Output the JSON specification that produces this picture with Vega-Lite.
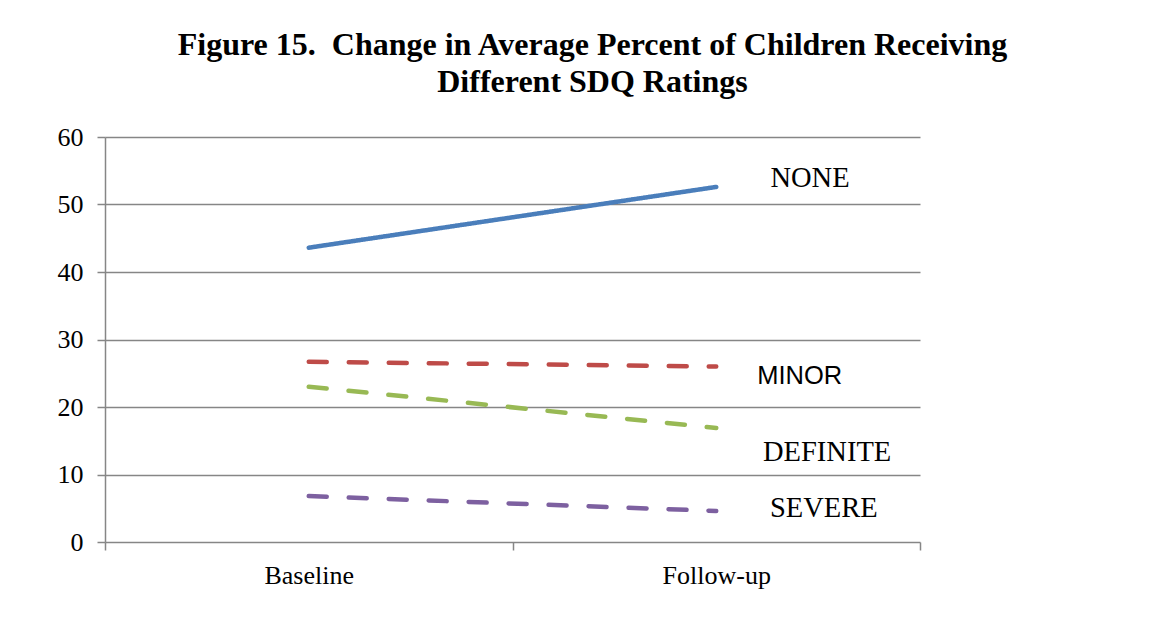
{
  "$schema": "https://vega.github.io/schema/vega-lite/v6.json",
  "width": 815,
  "height": 405,
  "autosize": {"type": "none"},
  "padding": {"left": 105, "top": 137, "right": 255, "bottom": 90},
  "background": "white",
  "title": {
    "text": ["Figure 15.\u00a0 Change in Average Percent of Children Receiving", "Different SDQ Ratings"],
    "font": "Liberation Serif",
    "fontSize": 32,
    "fontWeight": "bold",
    "color": "black",
    "anchor": "middle",
    "dx": 80,
    "lineHeight": 37,
    "offset": 25
  },
  "config": {
    "view": {"stroke": null},
    "axis": {
      "labelFont": "Liberation Serif",
      "labelFontSize": 26,
      "labelColor": "black",
      "domainColor": "#868686",
      "tickColor": "#868686",
      "gridColor": "#868686",
      "domainWidth": 1.5,
      "tickWidth": 1.5,
      "gridWidth": 1.5,
      "title": null
    }
  },
  "layer": [
    {
      "data": {
        "values": [
          {"period": "Baseline", "rating": "NONE", "pct": 43.6},
          {"period": "Follow-up", "rating": "NONE", "pct": 52.6},
          {"period": "Baseline", "rating": "MINOR", "pct": 26.7},
          {"period": "Follow-up", "rating": "MINOR", "pct": 26.0},
          {"period": "Baseline", "rating": "DEFINITE", "pct": 23.0},
          {"period": "Follow-up", "rating": "DEFINITE", "pct": 16.9},
          {"period": "Baseline", "rating": "SEVERE", "pct": 6.8},
          {"period": "Follow-up", "rating": "SEVERE", "pct": 4.6}
        ]
      },
      "mark": {"type": "line", "strokeWidth": 4.5, "strokeCap": "round"},
      "encoding": {
        "x": {
          "field": "period",
          "type": "nominal",
          "sort": ["Baseline", "Follow-up"],
          "bandPosition": 0.5,
          "scale": {"type": "band", "paddingInner": 0, "paddingOuter": 0},
          "axis": {
            "labelAngle": 0,
            "tickBand": "extent",
            "tickSize": 8,
            "labelPadding": 12,
            "domain": false,
            "grid": false
          }
        },
        "y": {
          "field": "pct",
          "type": "quantitative",
          "scale": {"domain": [0, 60], "nice": false},
          "axis": {
            "values": [0, 10, 20, 30, 40, 50, 60],
            "tickSize": 8,
            "labelPadding": 14,
            "grid": true,
            "domain": true
          }
        },
        "color": {
          "field": "rating",
          "type": "nominal",
          "legend": null,
          "scale": {
            "domain": ["NONE", "MINOR", "DEFINITE", "SEVERE"],
            "range": ["#4A7EBB", "#BE4B48", "#98B954", "#7D60A0"]
          }
        },
        "strokeDash": {
          "field": "rating",
          "type": "nominal",
          "legend": null,
          "scale": {
            "domain": ["NONE", "MINOR", "DEFINITE", "SEVERE"],
            "range": [[1, 0], [18, 22], [18, 22], [18, 22]]
          }
        }
      }
    },
    {
      "data": {
        "values": [
          {"label": "NONE", "lx": 1.73, "ly": 53.9},
          {"label": "DEFINITE", "lx": 1.772, "ly": 13.3},
          {"label": "SEVERE", "lx": 1.764, "ly": 5.0}
        ]
      },
      "mark": {"type": "text", "font": "Liberation Serif", "fontSize": 28.5, "color": "black", "align": "center", "baseline": "middle"},
      "encoding": {
        "x": {"field": "lx", "type": "quantitative", "scale": {"domain": [0, 2], "nice": false}, "axis": null},
        "y": {"field": "ly", "type": "quantitative"},
        "text": {"field": "label"}
      }
    },
    {
      "data": {
        "values": [
          {"label": "MINOR", "lx": 1.705, "ly": 24.6}
        ]
      },
      "mark": {"type": "text", "font": "Liberation Sans", "fontSize": 25.5, "color": "black", "align": "center", "baseline": "middle"},
      "encoding": {
        "x": {"field": "lx", "type": "quantitative", "scale": {"domain": [0, 2], "nice": false}, "axis": null},
        "y": {"field": "ly", "type": "quantitative"},
        "text": {"field": "label"}
      }
    }
  ],
  "resolve": {"scale": {"x": "independent"}}
}
